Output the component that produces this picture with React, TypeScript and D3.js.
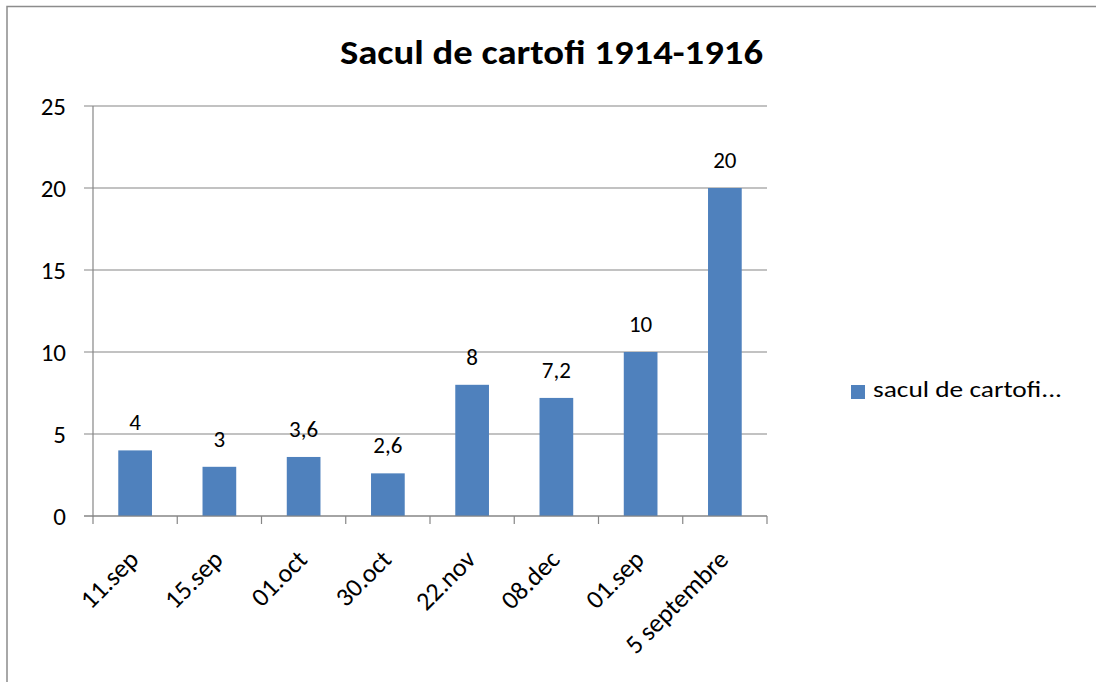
import React from "react";
import * as d3 from "d3";

const title = "Sacul de cartofi  1914-1916";
const categories = ["11.sep", "15.sep", "01.oct", "30.oct", "22.nov", "08.dec", "01.sep", "5 septembre"];
const values = [4, 3, 3.6, 2.6, 8, 7.2, 10, 20];
const valueLabels = ["4", "3", "3,6", "2,6", "8", "7,2", "10", "20"];
const yTicks = [0, 5, 10, 15, 20, 25];
const seriesName = "sacul de cartofi...";

const W = 1096;
const H = 682;
const FONT = "Carlito, Calibri, Lato, 'Open Sans', sans-serif";
const BLUE = "#4F81BD";
const GRID = "#868686";

export default function App() {
  const plot = { left: 93, right: 767, top: 106, bottom: 516 };
  const x = d3.scaleBand<string>().domain(categories).range([plot.left, plot.right]).paddingInner(0.6).paddingOuter(0.3);
  const xb = d3.scaleBand<string>().domain(categories).range([plot.left, plot.right]);
  const y = d3.scaleLinear().domain([0, 25]).range([plot.bottom, plot.top]);

  return (
    <svg width={W} height={H} style={{ position: "absolute", left: 0, top: 0, background: "#fff" }} fontFamily={FONT}>
      <rect x={0} y={0} width={W} height={H} fill="#fff" />
      {/* chart border (cropped) */}
      <path d={`M7,${H} V6.5 H${W}`} fill="none" stroke="#8c8c8c" strokeWidth={1.5} />
      <text x={340} y={64} fontSize={34} fontWeight="bold" fill="#000" textLength={423} lengthAdjust="spacingAndGlyphs">{title}</text>

      {/* gridlines and y ticks */}
      {yTicks.map((t) => (
        <g key={t}>
          <line x1={plot.left - 9} x2={plot.right} y1={y(t)} y2={y(t)} stroke={GRID} strokeWidth={1.2} />
          <text x={66} y={y(t) + 9} textAnchor="end" fontSize={25} fill="#000">{t}</text>
        </g>
      ))}
      {/* y axis */}
      <line x1={plot.left} x2={plot.left} y1={plot.top} y2={plot.bottom + 0.5} stroke={GRID} strokeWidth={1.2} />
      {/* x ticks */}
      {categories.map((c) => (
        <line key={c} x1={xb(c)!} x2={xb(c)!} y1={plot.bottom} y2={plot.bottom + 8} stroke={GRID} strokeWidth={1.2} />
      ))}
      <line x1={plot.right} x2={plot.right} y1={plot.bottom} y2={plot.bottom + 8} stroke={GRID} strokeWidth={1.2} />

      {/* bars */}
      {categories.map((c, i) => (
        <rect key={c} x={x(c)!} y={y(values[i])} width={x.bandwidth()} height={plot.bottom - y(values[i])} fill={BLUE} />
      ))}
      {/* data labels */}
      {categories.map((c, i) => (
        <text key={c} x={x(c)! + x.bandwidth() / 2} y={y(values[i]) - 20} textAnchor="middle" fontSize={23} fill="#000">{valueLabels[i]}</text>
      ))}
      {/* x labels */}
      {categories.map((c) => {
        const cx = xb(c)! + xb.bandwidth() / 2 + 5;
        const cy = plot.bottom + 45;
        return (
          <text key={c} transform={`translate(${cx},${cy}) rotate(-45)`} textAnchor="end" fontSize={26} fill="#000">{c}</text>
        );
      })}

      {/* axis line x */}
      <line x1={plot.left - 9} x2={plot.right} y1={plot.bottom} y2={plot.bottom} stroke={GRID} strokeWidth={1.2} />

      {/* legend */}
      <rect x={851} y={385} width={14} height={14} fill={BLUE} />
      <text x={873} y={397} fontSize={23} fill="#000" textLength={189} lengthAdjust="spacingAndGlyphs">{seriesName}</text>
    </svg>
  );
}
